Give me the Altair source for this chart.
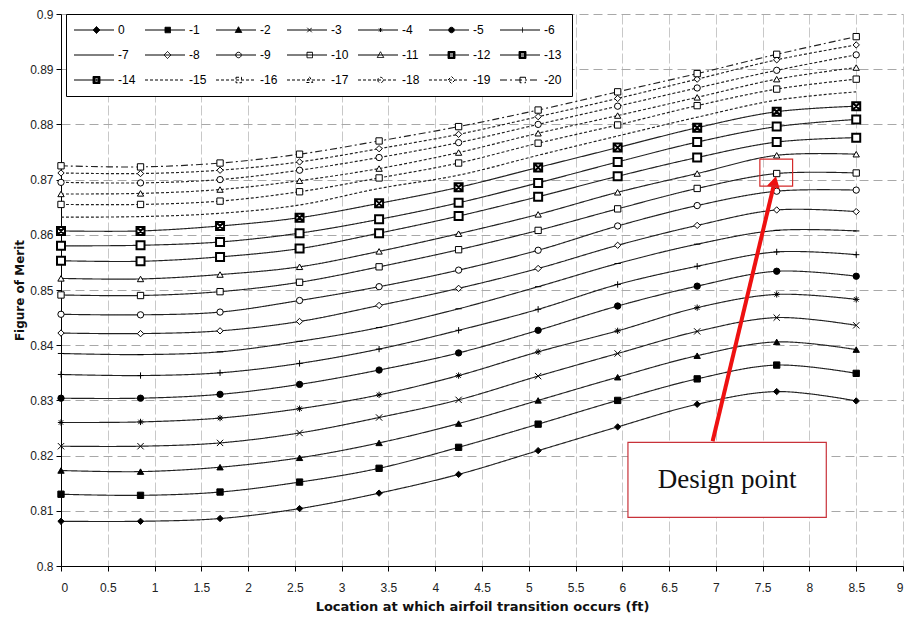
import altair as alt
import pandas as pd

# ---------------- data ----------------
x_ft = [0, 0.85, 1.7, 2.55, 3.4, 4.25, 5.1, 5.95, 6.8, 7.65, 8.5]
series_labels = ["0"] + ["-%d" % i for i in range(1, 21)]

fom_0 = [0.8081, 0.8081, 0.8086, 0.8104, 0.8132, 0.8166, 0.8209, 0.8252, 0.8293, 0.8316, 0.8299]
fom_1 = [0.8130, 0.8128, 0.8134, 0.8152, 0.8177, 0.8215, 0.8257, 0.8300, 0.8339, 0.8364, 0.8349]
fom_2 = [0.8173, 0.8171, 0.8179, 0.8196, 0.8223, 0.8258, 0.8300, 0.8342, 0.8381, 0.8406, 0.8392]
fom_3 = [0.8217, 0.8217, 0.8223, 0.8241, 0.8269, 0.8301, 0.8344, 0.8385, 0.8425, 0.8450, 0.8436]
fom_4 = [0.8260, 0.8261, 0.8268, 0.8285, 0.8310, 0.8345, 0.8388, 0.8426, 0.8468, 0.8492, 0.8483]
fom_5 = [0.8304, 0.8304, 0.8311, 0.8329, 0.8355, 0.8386, 0.8427, 0.8471, 0.8507, 0.8534, 0.8525]
fom_6 = [0.8347, 0.8345, 0.8350, 0.8367, 0.8393, 0.8427, 0.8465, 0.8510, 0.8543, 0.8569, 0.8564]
fom_7 = [0.8385, 0.8383, 0.8388, 0.8407, 0.8432, 0.8466, 0.8506, 0.8548, 0.8583, 0.8608, 0.8607]
fom_8 = [0.8422, 0.8421, 0.8426, 0.8443, 0.8472, 0.8503, 0.8539, 0.8581, 0.8617, 0.8645, 0.8642]
fom_9 = [0.8456, 0.8455, 0.8460, 0.8481, 0.8506, 0.8536, 0.8572, 0.8616, 0.8653, 0.8679, 0.8681]
fom_10 = [0.8491, 0.8490, 0.8497, 0.8514, 0.8542, 0.8573, 0.8608, 0.8647, 0.8684, 0.8711, 0.8712]
fom_11 = [0.8521, 0.8520, 0.8528, 0.8542, 0.8570, 0.8602, 0.8637, 0.8677, 0.8711, 0.8744, 0.8746]
fom_12 = [0.8553, 0.8552, 0.8560, 0.8575, 0.8603, 0.8634, 0.8669, 0.8706, 0.8740, 0.8768, 0.8776]
fom_13 = [0.8580, 0.8581, 0.8587, 0.8603, 0.8628, 0.8658, 0.8694, 0.8732, 0.8768, 0.8796, 0.8809]
fom_14 = [0.8607, 0.8607, 0.8616, 0.8631, 0.8657, 0.8686, 0.8722, 0.8758, 0.8794, 0.8823, 0.8833]
fom_15 = [0.8632, 0.8633, 0.8639, 0.8654, 0.8684, 0.8708, 0.8744, 0.8779, 0.8813, 0.8844, 0.8859]
fom_16 = [0.8655, 0.8655, 0.8661, 0.8678, 0.8703, 0.8730, 0.8766, 0.8799, 0.8834, 0.8864, 0.8882]
fom_17 = [0.8674, 0.8675, 0.8682, 0.8698, 0.8720, 0.8749, 0.8784, 0.8816, 0.8849, 0.8882, 0.8903]
fom_18 = [0.8695, 0.8694, 0.8700, 0.8717, 0.8740, 0.8767, 0.8800, 0.8833, 0.8866, 0.8898, 0.8926]
fom_19 = [0.8712, 0.8711, 0.8717, 0.8732, 0.8756, 0.8782, 0.8814, 0.8847, 0.8882, 0.8917, 0.8944]
fom_20 = [0.8725, 0.8723, 0.8730, 0.8746, 0.8770, 0.8796, 0.8826, 0.8859, 0.8892, 0.8927, 0.8959]

all_fom = [fom_0, fom_1, fom_2, fom_3, fom_4, fom_5, fom_6, fom_7, fom_8, fom_9, fom_10,
           fom_11, fom_12, fom_13, fom_14, fom_15, fom_16, fom_17, fom_18, fom_19, fom_20]

x_ticks = [0, 0.5, 1, 1.5, 2, 2.5, 3, 3.5, 4, 4.5, 5, 5.5, 6, 6.5, 7, 7.5, 8, 8.5, 9]
y_ticks = [0.8, 0.81, 0.82, 0.83, 0.84, 0.85, 0.86, 0.87, 0.88, 0.89, 0.9]

# annotation (data coordinates)
design_box = [7.47, 7.82, 0.8688, 0.8737]      # x, x2, y, y2
note_box = [6.06, 8.18, 0.8088, 0.8224]        # x, x2, y, y2
note_text = ["Design point"]
note_pos = [7.12, 0.8155]
arrow_line = [6.965, 0.8226, 7.628, 0.8696]     # x, y, x2, y2
arrow_head = [7.628, 0.8696]

# ---------------- styles ----------------
SOLID = [1, 0]
DOT = [3, 2]
DASHDOT = [7, 3, 2, 3]
dash_styles = [SOLID] * 15 + [DOT] * 5 + [DASHDOT]

P_X = "M-1,-1L1,1M-1,1L1,-1"
P_AST = "M-1,0H1M0,-1V1M-0.7,-0.7L0.7,0.7M-0.7,0.7L0.7,-0.7"
P_PLUS = "M-1,0H1M0,-1V1"
P_DASH = "M-1,0H1"
P_SQX = "M-1,-1H1V1H-1ZM-1,-1L1,1M-1,1L1,-1"
point_shapes = ["diamond", "square", "triangle-up", P_X, P_AST, "circle", P_PLUS, P_DASH,
                "diamond", "circle", "square", "triangle-up", "square", "square", P_SQX,
                "circle", "square", "triangle-up", "circle", "diamond", "square"]
point_fills = ["black"] * 8 + ["white"] * 13

# legend symbols: a line with the marker in the middle (unit = 5 px)
LL = "M-1.6,0H6.4"
L_DIA = "M2.2,0L2.9,-0.7L3.6,0L2.9,0.7Z"
L_SQ = "M2.4,-0.55H3.5V0.55H2.4Z"
L_TRI = "M2.9,-0.65L3.55,0.5L2.25,0.5Z"
L_X = "M2.45,-0.45L3.35,0.45M2.45,0.45L3.35,-0.45"
L_AST = "M2.9,-0.4V0.4M2.6,-0.3L3.2,0.3M2.6,0.3L3.2,-0.3"
L_CIR = "M2.35,0A0.55,0.55 0 1,0 3.45,0A0.55,0.55 0 1,0 2.35,0Z"
L_PLUS = "M2.9,-0.5V0.5"
L_BOLD = "M2.2,-0.7H3.6V0.7H2.2ZM2.5,-0.4V0.4H3.3V-0.4Z"
L_BOLDX = L_BOLD + "M2.5,-0.4L3.3,0.4M2.5,0.4L3.3,-0.4"
legend_shapes = [LL + L_DIA, LL + L_SQ, LL + L_TRI, LL + L_X, LL + L_AST, LL + L_CIR,
                 LL + L_PLUS, LL, LL + L_DIA, LL + L_CIR, LL + L_SQ, LL + L_TRI,
                 LL + L_BOLD, LL + L_BOLD, LL + L_BOLDX, LL, LL + L_SQ, LL + L_TRI,
                 LL + L_CIR, LL + L_DIA, LL + L_SQ]
legend_fills = ["black"] * 8 + ["white"] * 4 + ["black"] * 3 + ["white"] * 6
legend_strokes = ["black"] * 21

bold_series = ["-12", "-13", "-14"]

# ---------------- table ----------------
rows = []
for lab, vals in zip(series_labels, all_fom):
    for xv, v in zip(x_ft, vals):
        rows.append({"x": xv, "y": v, "series": lab})
df = pd.DataFrame(rows)

x_axis = alt.Axis(values=x_ticks, format="~g", title="Location at which airfoil transition occurs (ft)",
                  tickSize=5, labelPadding=11, titlePadding=7, gridDash=[10, 3], gridColor="#c8c8c8",
                  titleFont="DejaVu Sans", titleFontSize=13)
y_axis = alt.Axis(values=y_ticks, format="~g", title="Figure of Merit", tickSize=5, labelPadding=3,
                  titlePadding=3, gridDash=[9, 5], gridColor="#a8a8a8", titleFont="DejaVu Sans",
                  titleFontSize=12)
x_scale = alt.Scale(domain=[0, 9], nice=False)
y_scale = alt.Scale(domain=[0.8, 0.9], nice=False, zero=False)


def X(f="x"):
    return alt.X(f + ":Q", scale=x_scale, axis=x_axis)


def Y(f="y"):
    return alt.Y(f + ":Q", scale=y_scale, axis=y_axis)


base = alt.Chart(df)

lines = base.mark_line(interpolate="catmull-rom", color="#222222", strokeWidth=1.15).encode(
    x=X(), y=Y(),
    strokeDash=alt.StrokeDash("series:N", scale=alt.Scale(domain=series_labels, range=dash_styles), legend=None),
    detail="series:N",
)

shape_scale = alt.Scale(domain=series_labels, range=point_shapes)
fill_scale = alt.Scale(domain=series_labels, range=point_fills)

points = base.transform_filter(
    alt.FieldOneOfPredicate(field="series", oneOf=[s for s in series_labels if s not in bold_series + ["-15"]])
).mark_point(color="black", strokeWidth=1, size=40, opacity=1).encode(
    x=X(), y=Y(),
    shape=alt.Shape("series:N", scale=shape_scale, legend=None),
    fill=alt.Fill("series:N", scale=fill_scale, legend=None),
)

bold_points = base.transform_filter(
    alt.FieldOneOfPredicate(field="series", oneOf=bold_series)
).mark_point(color="black", strokeWidth=2, size=64, opacity=1).encode(
    x=X(), y=Y(),
    shape=alt.Shape("series:N", scale=shape_scale, legend=None),
    fill=alt.Fill("series:N", scale=fill_scale, legend=None),
)

leg = alt.Legend(orient="none", legendX=5, legendY=0, direction="horizontal", columns=7, title=None,
                 padding=10, rowPadding=13, columnPadding=7, labelOffset=30, symbolSize=100,
                 symbolStrokeWidth=1, symbolOpacity=1, symbolStrokeColor="black",
                 strokeColor="black", fillColor="white", labelFontSize=12, labelFont="Liberation Sans",
                 labelColor="black")
legend_layer = base.transform_filter("datum.x == 0").mark_point(color="black", opacity=0).encode(
    x=X(), y=Y(),
    shape=alt.Shape("series:N", scale=alt.Scale(domain=series_labels, range=legend_shapes), legend=leg),
    fill=alt.Fill("series:N", scale=alt.Scale(domain=series_labels, range=legend_fills), legend=leg),
    stroke=alt.Stroke("series:N", scale=alt.Scale(domain=series_labels, range=legend_strokes), legend=leg),
    strokeDash=alt.StrokeDash("series:N", scale=alt.Scale(domain=series_labels, range=dash_styles), legend=leg),
)

dbox = alt.Chart(pd.DataFrame([{"x": design_box[0], "x2": design_box[1], "y": design_box[2], "y2": design_box[3]}])
                 ).mark_rect(fillOpacity=0, stroke="#d42a2a", strokeWidth=1.2).encode(
    x=X(), x2="x2:Q", y=Y(), y2="y2:Q")

nbox = alt.Chart(pd.DataFrame([{"x": note_box[0], "x2": note_box[1], "y": note_box[2], "y2": note_box[3]}])
                 ).mark_rect(fill="white", stroke="#c8323a", strokeWidth=1.2).encode(
    x=X(), x2="x2:Q", y=Y(), y2="y2:Q")

ntext = alt.Chart(pd.DataFrame([{"x": note_pos[0], "y": note_pos[1], "t": note_text[0]}])).mark_text(
    font="Liberation Serif", fontSize=27, color="#111").encode(x=X(), y=Y(), text="t:N")

arrow = alt.Chart(pd.DataFrame([{"x": arrow_line[0], "y": arrow_line[1], "x2": arrow_line[2], "y2": arrow_line[3]}])
                  ).mark_rule(color="#ee1111", strokeWidth=4).encode(x=X(), y=Y(), x2="x2:Q", y2="y2:Q")

head = alt.Chart(pd.DataFrame([{"x": arrow_head[0], "y": arrow_head[1]}])).mark_point(
    shape="triangle-up", filled=True, color="#ee1111", size=170, angle=13.6, opacity=1).encode(x=X(), y=Y())

chart = alt.layer(lines, points, bold_points, arrow, head, dbox, nbox, ntext, legend_layer).resolve_scale(
    shape="independent", fill="independent", strokeDash="independent", stroke="independent"
).properties(
    width=842, height=552,
    autosize=alt.AutoSizeParams(type="none"),
    padding={"left": 61, "top": 14, "right": 1, "bottom": 55},
    background="white",
).configure_view(stroke=None).configure_axis(
    labelFont="Liberation Sans", titleFont="Liberation Sans", labelFontSize=12, titleFontSize=12,
    titleFontWeight="bold", labelColor="#222", titleColor="#111", domainColor="black", tickColor="black",
    domainWidth=1,
)

chart.save("out.html", embed_options={"renderer": "svg", "actions": False})
